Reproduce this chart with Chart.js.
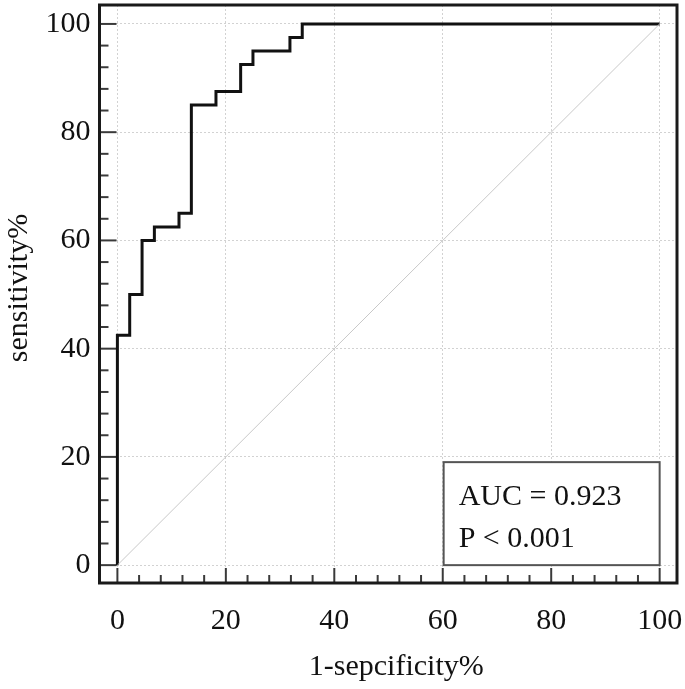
<!DOCTYPE html>
<html><head><meta charset="utf-8">
<script src="https://cdn.jsdelivr.net/npm/chart.js@4/dist/chart.umd.min.js"></script>
<style>html,body{margin:0;padding:0;background:#fff}#wrap{width:685px;height:689px}</style>
</head><body><div id="wrap"><canvas id="c" width="685" height="689"></canvas></div>
<script>
// ROC curve vertices (1-specificity %, sensitivity %)
const rocFpr = [0, 0, 2.27, 2.27, 4.55, 4.55, 6.82, 6.82, 11.36, 11.36, 13.64, 13.64, 18.18, 18.18, 22.73, 22.73, 25.0, 25.0, 31.82, 31.82, 34.09, 34.09, 100];
const rocTpr = [0, 42.5, 42.5, 50, 50, 60, 60, 62.5, 62.5, 65, 65, 85, 85, 87.5, 87.5, 92.5, 92.5, 95, 95, 97.5, 97.5, 100, 100];
// reference diagonal
const refX = [0, 100];
const refY = [0, 100];
// tick values
const majorTicks = [0, 20, 40, 60, 80, 100];
const minorTicks = [4, 8, 12, 16, 24, 28, 32, 36, 44, 48, 52, 56, 64, 68, 72, 76, 84, 88, 92, 96];
// texts
const aucLabel = 'AUC = 0.923';
const pLabel = 'P < 0.001';
const xTitle = '1-sepcificity%';
const yTitle = 'sensitivity%';

const FONT = "'Liberation Serif', 'DejaVu Serif', serif";

const decor = {
  id: 'decor',
  beforeDatasetsDraw(chart) {
    const {ctx, chartArea: a, scales: {x, y}} = chart;
    ctx.save();
    ctx.strokeStyle = '#3a3a3a';
    ctx.lineWidth = 2;
    const ln = (x1, y1, x2, y2) => { ctx.beginPath(); ctx.moveTo(x1, y1); ctx.lineTo(x2, y2); ctx.stroke(); };
    majorTicks.forEach(v => {
      const px = x.getPixelForValue(v); ln(px, a.bottom, px, a.bottom - 15);
      const py = y.getPixelForValue(v); ln(a.left, py, a.left + 17, py);
    });
    minorTicks.forEach(v => {
      const px = x.getPixelForValue(v); ln(px, a.bottom, px, a.bottom - 8);
      const py = y.getPixelForValue(v); ln(a.left, py, a.left + 9, py);
    });
    ctx.restore();
  },
  afterDraw(chart) {
    const {ctx, chartArea: a, scales: {x, y}} = chart;
    ctx.save();
    // legend box anchored to (100, 0)
    const r = x.getPixelForValue(100), b = y.getPixelForValue(0);
    const w = 216, h = 103;
    ctx.fillStyle = '#fff';
    ctx.fillRect(r - w, b - h, w, h);
    ctx.strokeStyle = '#555';
    ctx.lineWidth = 2;
    ctx.strokeRect(r - w, b - h, w, h);
    ctx.fillStyle = '#111';
    ctx.font = '30px ' + FONT;
    ctx.textBaseline = 'alphabetic';
    ctx.textAlign = 'left';
    ctx.fillText(aucLabel, r - w + 15, b - h + 43);
    ctx.fillText(pLabel, r - w + 15, b - h + 85);
    // axis titles
    ctx.textAlign = 'center';
    ctx.textBaseline = 'middle';
    ctx.fillText(xTitle, (a.left + a.right) / 2 + 8, a.bottom + 84);
    ctx.save();
    ctx.translate(19, (a.top + a.bottom) / 2 - 6);
    ctx.rotate(-Math.PI / 2);
    ctx.fillText(yTitle, 0, 0);
    ctx.restore();
    // frame
    ctx.strokeStyle = '#1a1a1a';
    ctx.lineWidth = 3;
    ctx.strokeRect(a.left, a.top, a.right - a.left, a.bottom - a.top);
    ctx.restore();
  }
};

const setTicks = s => { s.ticks = majorTicks.map(v => ({value: v})); };
const noPad = s => { s.paddingLeft = 0; s.paddingRight = 0; s.paddingTop = 0; s.paddingBottom = 0; };

new Chart(document.getElementById('c'), {
  type: 'scatter',
  data: {
    datasets: [
      {
        data: refX.map((v, i) => ({x: v, y: refY[i]})),
        showLine: true, borderColor: '#c8c8c8', borderWidth: 1, pointRadius: 0
      },
      {
        data: rocFpr.map((v, i) => ({x: v, y: rocTpr[i]})),
        showLine: true, borderColor: '#111', borderWidth: 3, pointRadius: 0,
        borderJoinStyle: 'miter', borderCapStyle: 'butt'
      }
    ]
  },
  options: {
    responsive: false,
    animation: false,
    devicePixelRatio: 1,
    layout: {padding: {top: 5, right: 8, left: 0, bottom: 0}},
    plugins: {legend: {display: false}, tooltip: {enabled: false}},
    scales: {
      x: {
        type: 'linear', min: -3.3, max: 103.2,
        afterBuildTicks: setTicks,
        afterFit: s => { s.height = 106; noPad(s); },
        grid: {color: '#d2d2d2', lineWidth: 1, drawTicks: false},
        border: {display: false, dash: [2, 2]},
        ticks: {autoSkip: false, maxRotation: 0, padding: 20, color: '#111', font: {family: FONT, size: 30}},
        title: {display: false, text: xTitle}
      },
      y: {
        type: 'linear', min: -3.3, max: 103.5,
        afterBuildTicks: setTicks,
        afterFit: s => { s.width = 99.5; noPad(s); },
        grid: {color: '#d2d2d2', lineWidth: 1, drawTicks: false},
        border: {display: false, dash: [2, 2]},
        ticks: {autoSkip: false, padding: 9, color: '#111', font: {family: FONT, size: 30}},
        title: {display: false, text: yTitle}
      }
    }
  },
  plugins: [decor]
});
</script>
</body></html>
